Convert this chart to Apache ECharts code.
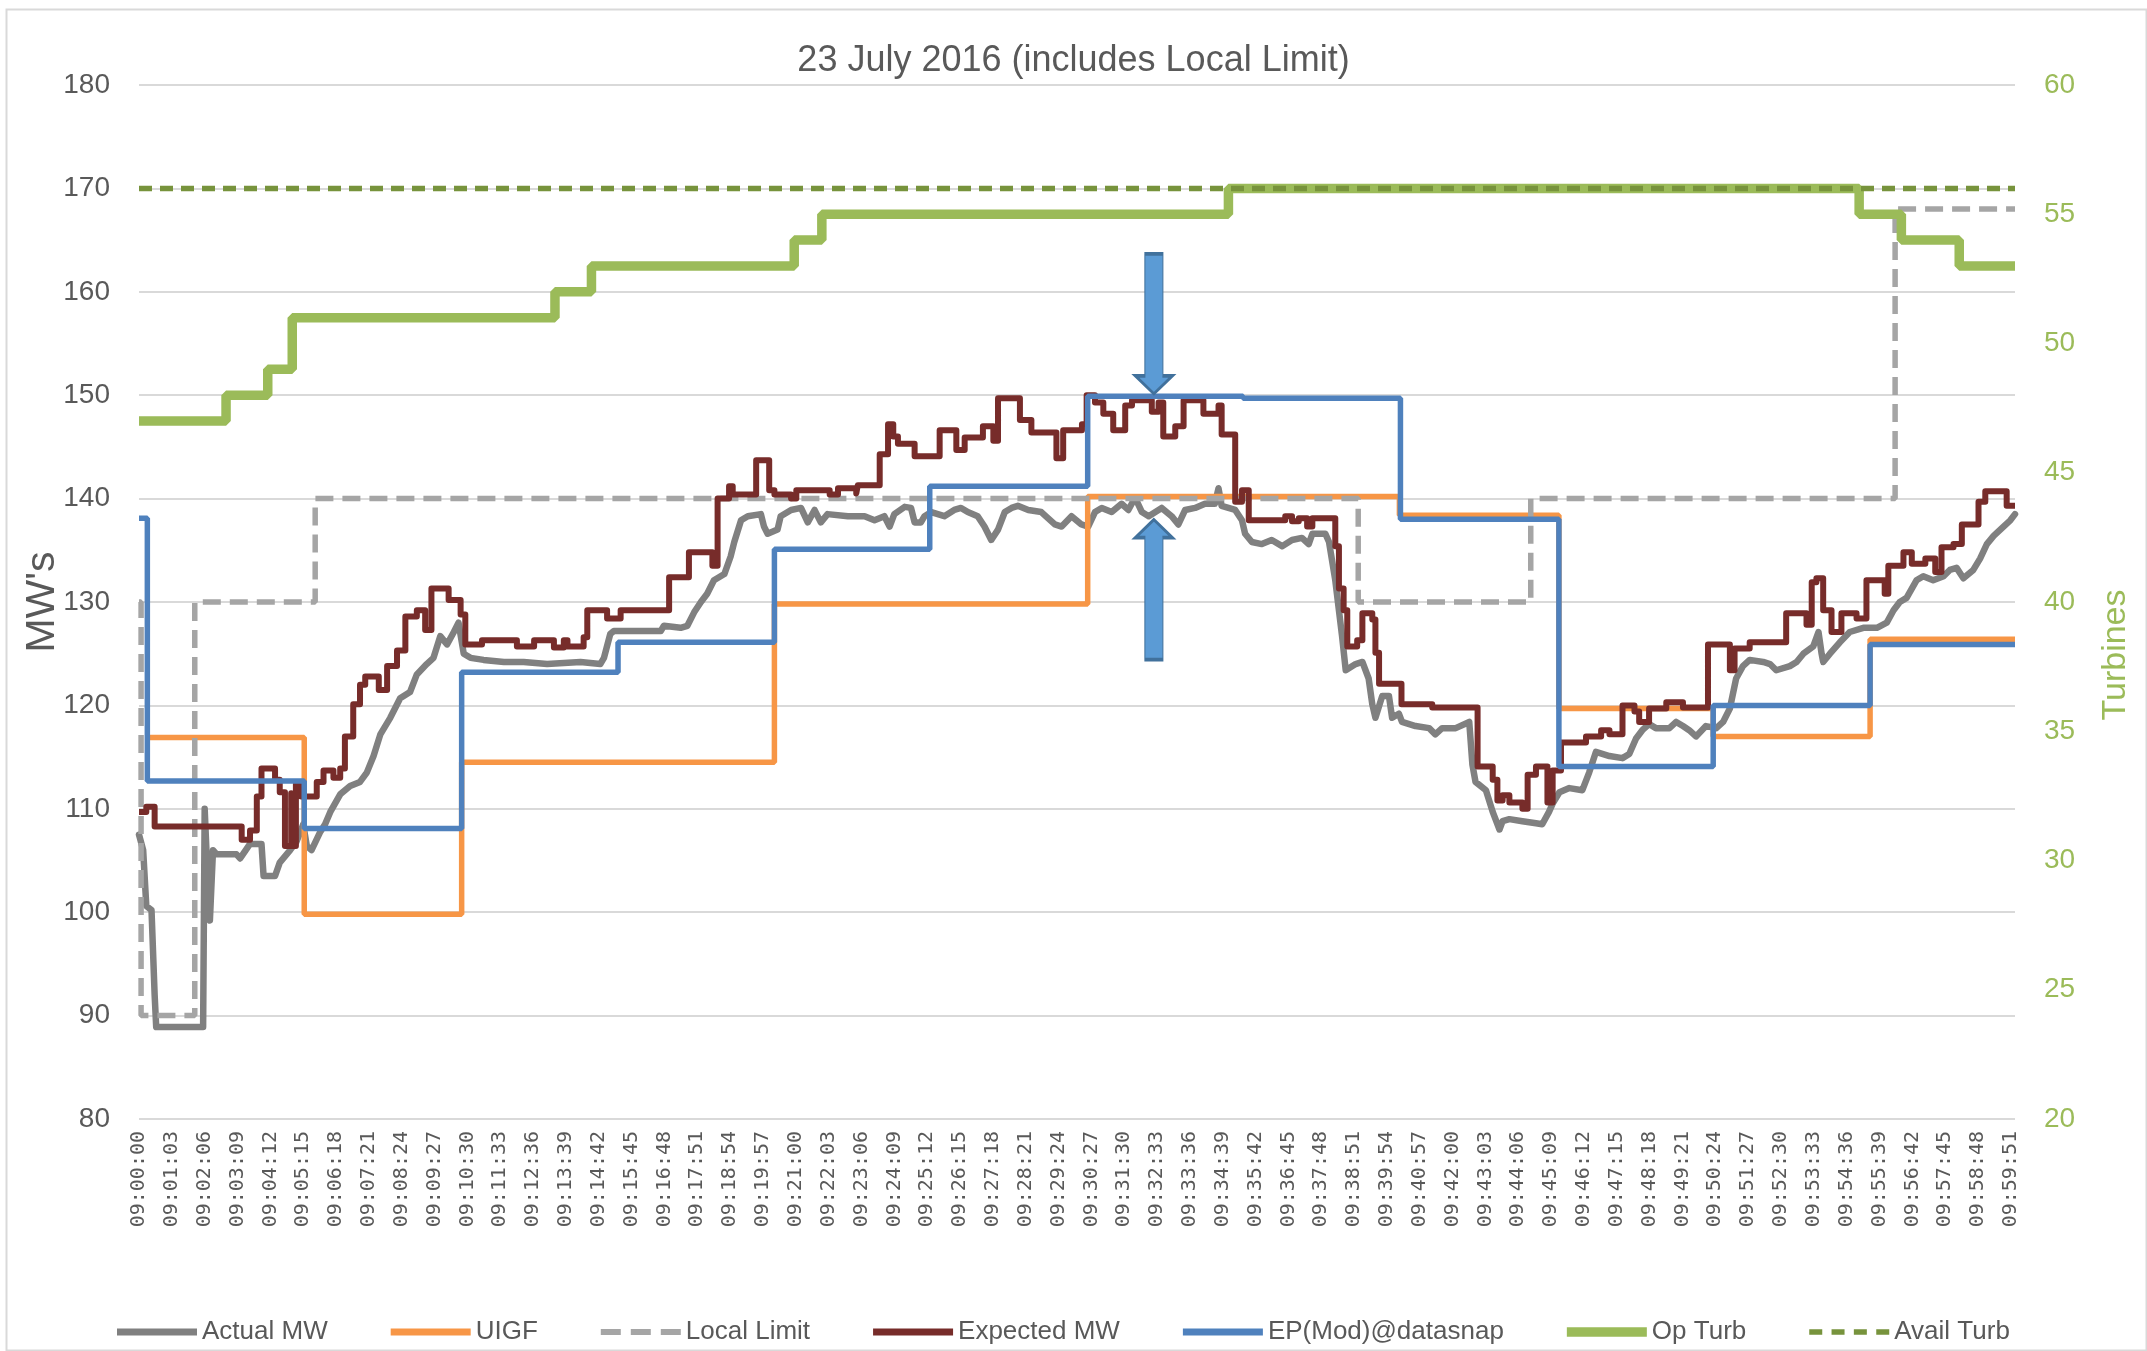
<!DOCTYPE html>
<html>
<head>
<meta charset="utf-8">
<script src="https://cdn.jsdelivr.net/npm/echarts@6/dist/echarts.min.js"></script>
<style>
html,body{margin:0;padding:0;background:#ffffff;}
#chart{width:2147px;height:1351px;}
</style>
</head>
<body>
<div id="chart"></div>
<script>
// ---------- DATA (time in seconds after 09:00:00) ----------
const tickLabels = ["09:00:00","09:01:03","09:02:06","09:03:09","09:04:12","09:05:15","09:06:18","09:07:21","09:08:24","09:09:27",
"09:10:30","09:11:33","09:12:36","09:13:39","09:14:42","09:15:45","09:16:48","09:17:51","09:18:54","09:19:57",
"09:21:00","09:22:03","09:23:06","09:24:09","09:25:12","09:26:15","09:27:18","09:28:21","09:29:24","09:30:27",
"09:31:30","09:32:33","09:33:36","09:34:39","09:35:42","09:36:45","09:37:48","09:38:51","09:39:54","09:40:57",
"09:42:00","09:43:03","09:44:06","09:45:09","09:46:12","09:47:15","09:48:18","09:49:21","09:50:24","09:51:27",
"09:52:30","09:53:33","09:54:36","09:55:39","09:56:42","09:57:45","09:58:48","09:59:51"];

const actualMW = [[0,107.5],[8,106],[14,100.6],[24,100.2],[30,92],[33,88.9],[123,88.9],[126,110],[131,104],[136,99.2],[142,106],[149,105.6],
[187,105.6],[194,105.2],[213,106.6],[235,106.6],[239,103.5],[261,103.5],[270,104.8],[290,106],[302,106.8],[309,107.7],[315,108.5],[322,106.4],
[331,106],[347,107.7],[357,108.5],[367,109.7],[386,111.4],[405,112.2],[424,112.6],[437,113.5],[450,115.1],[463,117.2],[482,118.8],[501,120.7],
[520,121.3],[533,123],[552,124],[565,124.6],[578,126.7],[591,125.9],[604,127.1],[613,128],[623,125],[636,124.6],[661,124.4],[700,124.2],
[738,124.2],[783,124.0],[847,124.2],[885,124.0],[892,124.6],[904,126.9],[911,127.2],[1001,127.2],[1007,127.7],[1039,127.5],[1052,127.7],
[1065,129],[1078,130],[1090,130.8],[1103,132.1],[1123,132.7],[1135,134.4],[1142,135.8],[1155,137.9],[1168,138.3],[1193,138.5],[1199,137.3],
[1206,136.6],[1225,137],[1231,138.3],[1251,138.9],[1270,139.1],[1283,137.7],[1296,138.9],[1308,137.7],[1321,138.5],[1360,138.3],[1392,138.3],
[1411,137.9],[1430,138.3],[1440,137.3],[1449,138.5],[1469,139.2],[1481,139.1],[1488,137.7],[1500,137.7],[1507,138.3],[1520,138.7],[1545,138.3],
[1564,138.9],[1577,139.1],[1590,138.7],[1609,138.3],[1622,137.3],[1635,136],[1648,137],[1661,138.7],[1674,139.1],[1686,139.3],[1706,138.9],
[1731,138.7],[1757,137.5],[1770,137.3],[1789,138.3],[1808,137.5],[1821,137.3],[1834,138.7],[1847,139.1],[1866,138.7],[1885,139.5],[1898,138.9],
[1911,140.1],[1924,138.7],[1937,138.3],[1962,139.1],[1981,138.3],[1994,137.5],[2007,138.9],[2026,139.1],[2045,139.5],[2064,139.5],[2071,141],
[2077,139.3],[2090,139.1],[2103,138.9],[2116,137.9],[2122,136.6],[2135,135.8],[2154,135.6],[2173,136],[2193,135.4],[2212,136],[2231,136.2],
[2244,135.6],[2251,136.6],[2276,136.6],[2283,135.8],[2295,132.1],[2302,129.2],[2308,126.7],[2315,123.4],[2334,124],[2347,124.2],[2359,122.6],
[2366,120.1],[2372,118.8],[2385,120.9],[2398,120.9],[2404,118.8],[2417,119.2],[2423,118.4],[2449,118],[2475,117.8],[2487,117.2],[2500,117.8],
[2526,117.8],[2552,118.4],[2558,114.3],[2564,112.6],[2584,111.8],[2597,109.7],[2610,108],[2616,108.8],[2629,109],[2654,108.8],[2680,108.6],
[2692,108.5],[2705,109.7],[2712,110.5],[2725,111.6],[2744,112],[2769,111.8],[2782,113.5],[2795,115.5],[2821,115.1],[2846,114.9],[2859,115.3],
[2872,116.8],[2884,117.6],[2897,118.2],[2910,117.8],[2936,117.8],[2949,118.4],[2962,118],[2974,117.6],[2987,117],[3006,118],[3026,117.8],
[3039,118.4],[3052,119.7],[3064,122.6],[3077,123.8],[3090,124.4],[3116,124.2],[3129,124],[3141,123.4],[3167,123.8],[3180,124.2],[3193,125],
[3212,125.7],[3222,127.1],[3228,125],[3231,124.2],[3244,125],[3263,126.1],[3282,127.1],[3308,127.5],[3334,127.5],[3353,128],[3366,129.2],
[3378,130],[3391,130.4],[3410,132.1],[3423,132.5],[3442,132.1],[3462,132.5],[3474,133.1],[3487,133.3],[3500,132.3],[3519,133.1],[3532,134.2],
[3545,135.6],[3558,136.4],[3577,137.3],[3590,137.9],[3599,138.5]];

const expectedMW = [[0,109.7],[14,110.2],[30,108.3],[197,107.0],[213,107.9],[226,111.2],[235,113.9],[261,112.8],[270,111.6],[280,106.4],
[292,111.5],[295,106.4],[301,112.4],[311,111.2],[341,112.6],[354,113.7],[373,113.0],[386,113.9],[395,117.0],[411,120.1],[424,122.0],[434,122.8],
[460,121.5],[476,123.8],[495,125.3],[511,128.6],[533,129.2],[549,127.3],[561,131.3],[594,130.2],[617,128.8],[626,125.9],[658,126.3],[725,125.7],
[758,126.3],[796,125.6],[815,126.3],[822,125.7],[853,126.6],[860,129.2],[898,128.4],[924,129.2],[1017,132.4],[1055,134.8],[1100,133.5],
[1110,140.0],[1132,141.2],[1139,140.4],[1184,143.7],[1209,140.8],[1219,140.4],[1251,140.0],[1261,140.8],[1325,140.4],[1341,141.0],[1376,140.5],
[1379,141.3],[1421,144.3],[1437,147.2],[1447,146.0],[1456,145.3],[1488,144.1],[1536,146.6],[1568,144.7],[1584,145.9],[1619,147.0],[1639,145.6],
[1648,149.7],[1690,147.6],[1712,146.4],[1760,143.9],[1773,146.6],[1809,147.2],[1818,150.0],[1834,149.3],[1850,148.2],[1869,146.6],[1892,149.0],
[1905,149.5],[1943,148.4],[1956,149.3],[1965,146.0],[1988,147.0],[2004,149.5],[2042,148.2],[2071,149.0],[2077,146.2],[2103,139.7],[2116,140.8],
[2129,137.9],[2199,138.3],[2212,137.8],[2225,138.1],[2241,137.3],[2251,138.1],[2295,135.4],[2302,131.3],[2311,129.2],[2318,125.7],[2337,126.3],
[2347,128.9],[2366,128.3],[2372,125.1],[2379,122.1],[2422,120.1],[2481,119.8],[2568,114.1],[2597,112.8],[2606,110.8],[2616,111.3],[2629,110.6],
[2654,110.0],[2664,113.3],[2680,114.1],[2702,110.6],[2712,113.7],[2728,116.4],[2776,117.0],[2805,117.6],[2821,117.2],[2846,120.0],[2869,119.4],
[2878,118.4],[2897,119.7],[2930,120.3],[2962,119.8],[3010,125.9],[3052,123.4],[3061,125.5],[3090,126.1],[3160,128.9],[3199,127.8],[3209,131.9],
[3218,132.3],[3231,129.2],[3247,127.1],[3266,128.9],[3295,128.4],[3314,132.1],[3349,130.8],[3356,133.5],[3385,134.8],[3401,133.7],[3427,134.2],
[3446,132.9],[3458,135.3],[3481,135.6],[3497,137.5],[3529,139.7],[3542,140.7],[3583,139.3],[3599,139.3]];

const uigfT = [16, 317, 619, 1219, 1820, 2418, 2724, 3020, 3321, 3599];
const uigfV = [116.9, 99.8, 114.5, 129.8, 140.2, 138.4, 119.7, 117.0, 126.4, 126.4];

const localLimitT = [0, 4, 107, 338, 2339, 2670, 3369, 3599];
const localLimitV = [130, 90, 130, 140, 130, 140, 168, 168];

const epT = [0, 16, 317, 619, 919, 1219, 1517, 1820, 2118, 2420, 2724, 3020, 3321, 3599];
const epV = [138.1, 112.7, 108.1, 123.2, 126.1, 135.1, 141.2, 149.9, 149.7, 138.0, 114.1, 120.0, 125.9, 125.9];

const opTurbT = [0, 167, 247, 294, 798, 868, 1257, 1310, 2090, 3300, 3381, 3492, 3599];
const opTurbV = [47, 48, 49, 51, 52, 53, 54, 55, 56, 55, 54, 53, 53];

const availTurbT = [0, 3599];
const availTurbV = [56, 56];

// annotation arrows: [time s, centre MW, direction]
const arrowMarks = [[1947, 156.9, 'down'], [1947, 131.2, 'up']];

// ---------- CHART ----------
const pairs = (t, v) => t.map((x, i) => [x, v[i]]);
const FONT = "'Liberation Sans', Arial, sans-serif";
const ARROW_DOWN = 'path://M9.5,0 L27.5,0 L27.5,122 L37,122 L18.5,140 L0,122 L9.5,122 Z';
const ARROW_UP = 'path://M18.5,0 L37,18 L27.5,18 L27.5,140 L9.5,140 L9.5,18 L0,18 Z';
const ICON_SOLID = 'path://M0,0H80V7H0Z';
const ICON_THICK = 'path://M0,0H80V9.5H0Z';
const ICON_DASH = 'path://M0,0H20V6H0Z M30,0H50V6H30Z M60,0H80V6H60Z';
const ICON_DOT = 'path://M0,0H13V5.5H0Z M22.3,0H35.3V5.5H22.3Z M44.6,0H57.6V5.5H44.6Z M67,0H80V5.5H67Z';

const chart = echarts.init(document.getElementById('chart'), null, {renderer: 'canvas'});

const option = {
  animation: false,
  backgroundColor: '#ffffff',
  textStyle: {fontFamily: FONT},
  title: {
    text: '23 July 2016 (includes Local Limit)',
    left: 'center', top: 38,
    textStyle: {fontFamily: FONT, fontSize: 36, fontWeight: 'normal', color: '#595959'}
  },
  graphic: [{
    type: 'rect', left: 4, top: 7, silent: true,
    shape: {width: 2140, height: 1341},
    style: {fill: 'none', stroke: '#D9D9D9', lineWidth: 2}
  }],
  grid: {left: 139, right: 132, top: 85, bottom: 232},
  legend: {
    top: 1314, left: 112,
    itemWidth: 80, itemHeight: 14, itemGap: 63,
    textStyle: {fontFamily: FONT, fontSize: 26, color: '#595959'},
    data: [
      {name: 'Actual MW', icon: ICON_SOLID},
      {name: 'UIGF', icon: ICON_SOLID},
      {name: 'Local Limit', icon: ICON_DASH},
      {name: 'Expected MW', icon: ICON_SOLID},
      {name: 'EP(Mod)@datasnap', icon: ICON_SOLID},
      {name: 'Op Turb', icon: ICON_THICK},
      {name: 'Avail Turb', icon: ICON_DOT}
    ]
  },
  xAxis: {
    type: 'value', min: 0, max: 3599, interval: 63,
    axisLine: {show: false}, axisTick: {show: false}, splitLine: {show: false},
    axisLabel: {
      rotate: 90, margin: 12, showMaxLabel: false,
      fontFamily: "'DejaVu Sans Mono', monospace", fontSize: 20, color: '#595959',
      formatter: v => (v % 63 === 0 && tickLabels[v / 63]) ? tickLabels[v / 63] : ''
    }
  },
  yAxis: [{
    type: 'value', min: 80, max: 180, interval: 10,
    name: "MW's", nameLocation: 'middle', nameGap: 76, nameRotate: 90, nameMoveOverlap: false,
    nameTextStyle: {fontFamily: FONT, fontSize: 41, color: '#595959'},
    axisLine: {show: false}, axisTick: {show: false},
    axisLabel: {fontFamily: FONT, fontSize: 28, color: '#595959', margin: 29},
    splitLine: {lineStyle: {color: '#D9D9D9', width: 2}}
  }, {
    type: 'value', position: 'right', min: 20, max: 60, interval: 5,
    name: 'Turbines', nameLocation: 'middle', nameGap: 84, nameRotate: 90,
    nameTextStyle: {fontFamily: FONT, fontSize: 34, color: '#9BBB59', padding: [0, 106, 0, 0]},
    axisLine: {show: false}, axisTick: {show: false},
    axisLabel: {fontFamily: FONT, fontSize: 28, color: '#9BBB59', margin: 29},
    splitLine: {show: false}
  }],
  series: [{
    name: 'Actual MW', type: 'line', symbol: 'none', data: actualMW,
    itemStyle: {color: '#808080'},
    lineStyle: {color: '#808080', width: 6.5, join: 'round', cap: 'round'}
  }, {
    name: 'UIGF', type: 'line', step: 'end', symbol: 'none', data: pairs(uigfT, uigfV),
    itemStyle: {color: '#F79646'},
    lineStyle: {color: '#F79646', width: 5.5}
  }, {
    name: 'Local Limit', type: 'line', step: 'end', symbol: 'none', data: pairs(localLimitT, localLimitV),
    itemStyle: {color: '#A5A5A5'},
    lineStyle: {color: '#A5A5A5', width: 5.5, type: [18, 9]}
  }, {
    name: 'Expected MW', type: 'line', step: 'end', symbol: 'none', data: expectedMW,
    itemStyle: {color: '#772C2A'},
    lineStyle: {color: '#772C2A', width: 6, join: 'round'}
  }, {
    name: 'EP(Mod)@datasnap', type: 'line', step: 'end', symbol: 'none', data: pairs(epT, epV),
    itemStyle: {color: '#4F81BD'},
    lineStyle: {color: '#4F81BD', width: 5.5},
    markPoint: {
      silent: true, symbolKeepAspect: false,
      label: {show: false},
      data: arrowMarks.map(a => ({
        coord: [a[0], a[1]],
        symbol: a[2] === 'down' ? ARROW_DOWN : ARROW_UP,
        symbolSize: [37, 140],
        itemStyle: {color: '#5B9BD5', borderColor: '#41719C', borderWidth: 2}
      }))
    }
  }, {
    name: 'Op Turb', type: 'line', step: 'end', symbol: 'none', yAxisIndex: 1, data: pairs(opTurbT, opTurbV),
    itemStyle: {color: '#9BBB59'},
    lineStyle: {color: '#9BBB59', width: 9.5}
  }, {
    name: 'Avail Turb', type: 'line', symbol: 'none', yAxisIndex: 1, data: pairs(availTurbT, availTurbV),
    itemStyle: {color: '#77933C'},
    lineStyle: {color: '#77933C', width: 5.5, type: [13, 8]}
  }]
};
chart.setOption(option);
</script>
</body>
</html>
